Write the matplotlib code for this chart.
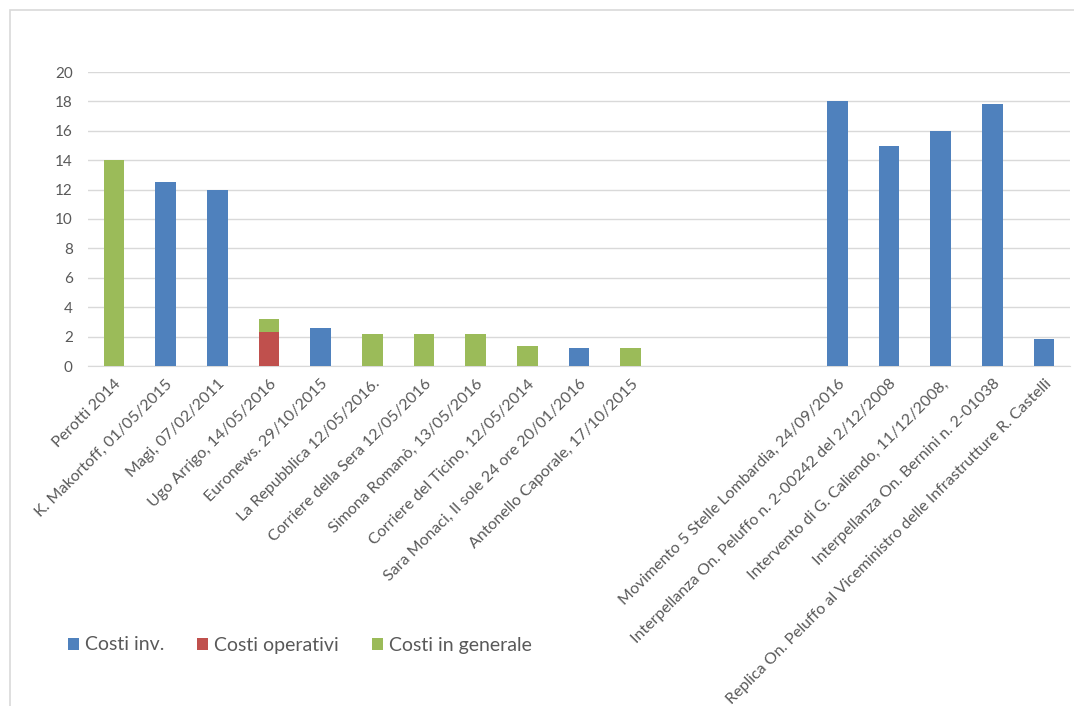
import matplotlib
matplotlib.use("Agg")
import matplotlib.pyplot as plt
from matplotlib.patches import Rectangle
import matplotlib.transforms as mtransforms
import numpy as np

plt.rcParams['font.family'] = ['Lato', 'DejaVu Sans']

categories = [
    "Perotti 2014", "K. Makortoff, 01/05/2015", "Magi, 07/02/2011",
    "Ugo Arrigo, 14/05/2016", "Euronews. 29/10/2015", "La Repubblica 12/05/2016.",
    "Corriere della Sera 12/05/2016", "Simona Romanò, 13/05/2016",
    "Corriere del Ticino, 12/05/2014", "Sara Monaci, Il sole 24 ore 20/01/2016",
    "Antonello Caporale, 17/10/2015", "", "", "",
    "Movimento 5 Stelle Lombardia, 24/09/2016",
    "Interpellanza On. Peluffo n. 2-00242 del 2/12/2008",
    "Intervento di G. Caliendo, 11/12/2008,",
    "Interpellanza On. Bernini n. 2-01038",
    "Replica On. Peluffo al Viceministro delle Infrastrutture R. Castelli",
]
costi_inv = [0, 12.5, 12, 0, 2.6, 0, 0, 0, 0, 1.25, 0, 0, 0, 0, 18, 15, 16, 17.8, 1.85]
costi_operativi = [0, 0, 0, 2.3, 0, 0, 0, 0, 0, 0, 0, 0, 0, 0, 0, 0, 0, 0, 0]
costi_generale = [14, 0, 0, 0.9, 0, 2.2, 2.2, 2.2, 1.35, 0, 1.2, 0, 0, 0, 0, 0, 0, 0, 0]
series_names = ["Costi inv.", "Costi operativi", "Costi in generale"]
colors = ["#4F81BD", "#C0504D", "#9BBB59"]
yticks = [0, 2, 4, 6, 8, 10, 12, 14, 16, 18, 20]

W, H = 1074, 706
fig = plt.figure(figsize=(W / 100, H / 100), dpi=100)
fig.patch.set_facecolor("white")

# outer chart border (only left and top visible)
fig.patches.append(Rectangle((10 / W, -0.1), 1.2, (H - 10) / H + 0.1,
                             transform=fig.transFigure, fill=False,
                             edgecolor="#D9D9D9", linewidth=1.2))

ax = fig.add_axes([88 / W, 1 - 366 / H, (1070 - 88) / W, (366 - 72) / H])
x = np.arange(len(categories))
w = 0.4
inv = np.array(costi_inv)
op = np.array(costi_operativi)
gen = np.array(costi_generale)
ax.bar(x, inv, w, color=colors[0], label=series_names[0], zorder=3)
ax.bar(x, op, w, bottom=inv, color=colors[1], label=series_names[1], zorder=3)
ax.bar(x, gen, w, bottom=inv + op, color=colors[2], label=series_names[2], zorder=3)

ax.set_xlim(-0.5, len(categories) - 0.5)
ax.set_ylim(0, 20)
ax.set_yticks(yticks)
ax.yaxis.grid(True, color="#D9D9D9", linewidth=1, zorder=0)
for s in ["top", "right", "left"]:
    ax.spines[s].set_visible(False)
ax.spines["bottom"].set_color("#D9D9D9")
ax.tick_params(axis="both", length=0, colors="#595959", labelsize=11)
ax.tick_params(axis="y", pad=11)
ax.set_xticks(x)
ax.set_xticklabels(categories, rotation=45, ha="right", va="top",
                   rotation_mode="anchor", fontsize=11.5, color="#595959")
for lbl in ax.get_xticklabels():
    lbl.set_transform(lbl.get_transform() +
                      mtransforms.ScaledTranslation(0 / 100, -6 / 100, fig.dpi_scale_trans))

handles, labels = ax.get_legend_handles_labels()
fig.legend(handles, labels, loc="center left", bbox_to_anchor=(50 / W, 1 - 645 / H),
           ncol=3, frameon=False, fontsize=14, handlelength=0.58, handleheight=0.58,
           handletextpad=0.3, columnspacing=1.7, labelcolor="#595959")

fig.savefig("out.png", dpi=100)
